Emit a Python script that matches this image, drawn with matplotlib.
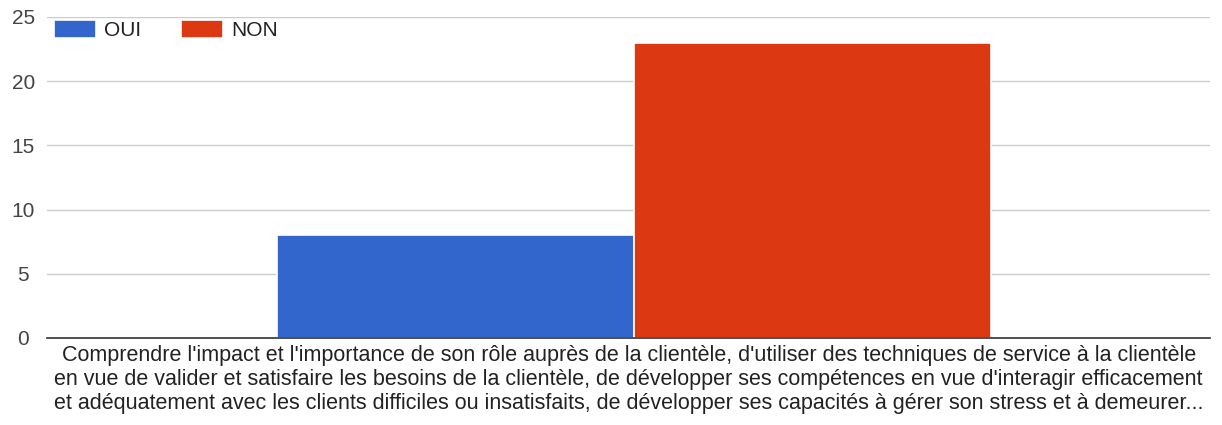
import matplotlib
matplotlib.use("Agg")
import matplotlib.pyplot as plt
import numpy as np

plt.rcParams["font.family"] = ["Liberation Sans", "DejaVu Sans"]

category = ("Comprendre l'impact et l'importance de son rôle auprès de la clientèle, d'utiliser des techniques de service à la clientèle\n"
            "en vue de valider et satisfaire les besoins de la clientèle, de développer ses compétences en vue d'interagir efficacement\n"
            "et adéquatement avec les clients difficiles ou insatisfaits, de développer ses capacités à gérer son stress et à demeurer...")
series = ["OUI", "NON"]
values = [8, 23]
colors = ["#3366cc", "#dc3912"]
yticks = [0, 5, 10, 15, 20, 25]

fig = plt.figure(figsize=(12.22, 4.25), dpi=100)
ax = fig.add_axes([0.0385, 0.205, 0.952, 0.755])

w = 0.3065
x = np.array([0.0])
for i, (s, v, c) in enumerate(zip(series, values, colors)):
    ax.bar(x + (i - 0.5) * w + 0.0045, [v], width=w, color=c, label=s,
           edgecolor="white", linewidth=1.2, zorder=3)

ax.set_xlim(-0.5, 0.5)
ax.set_ylim(0, 25)
ax.set_yticks(yticks)
ax.grid(axis="y", color="#cccccc", linewidth=1, zorder=0)
for sp in ["top", "right", "left"]:
    ax.spines[sp].set_visible(False)
ax.spines["bottom"].set_color("#333333")
ax.spines["bottom"].set_linewidth(1.2)
ax.spines["bottom"].set_zorder(4)
ax.tick_params(axis="y", length=0, labelsize=15, labelcolor="#444444", pad=17)
for t in ax.get_yticklabels():
    t.set_horizontalalignment("center")
ax.tick_params(axis="x", length=0, labelsize=15.5, labelcolor="#222222", pad=5)
ax.set_xticks(x)
ax.set_xticklabels([category], linespacing=1.18)

fig.legend(loc="upper left", bbox_to_anchor=(0.029, 0.998), ncol=2, frameon=False,
           fontsize=15, handlelength=2.0, handleheight=1.0, handletextpad=0.4,
           columnspacing=1.9, labelcolor="#222222")

fig.savefig("out.png", dpi=100)
